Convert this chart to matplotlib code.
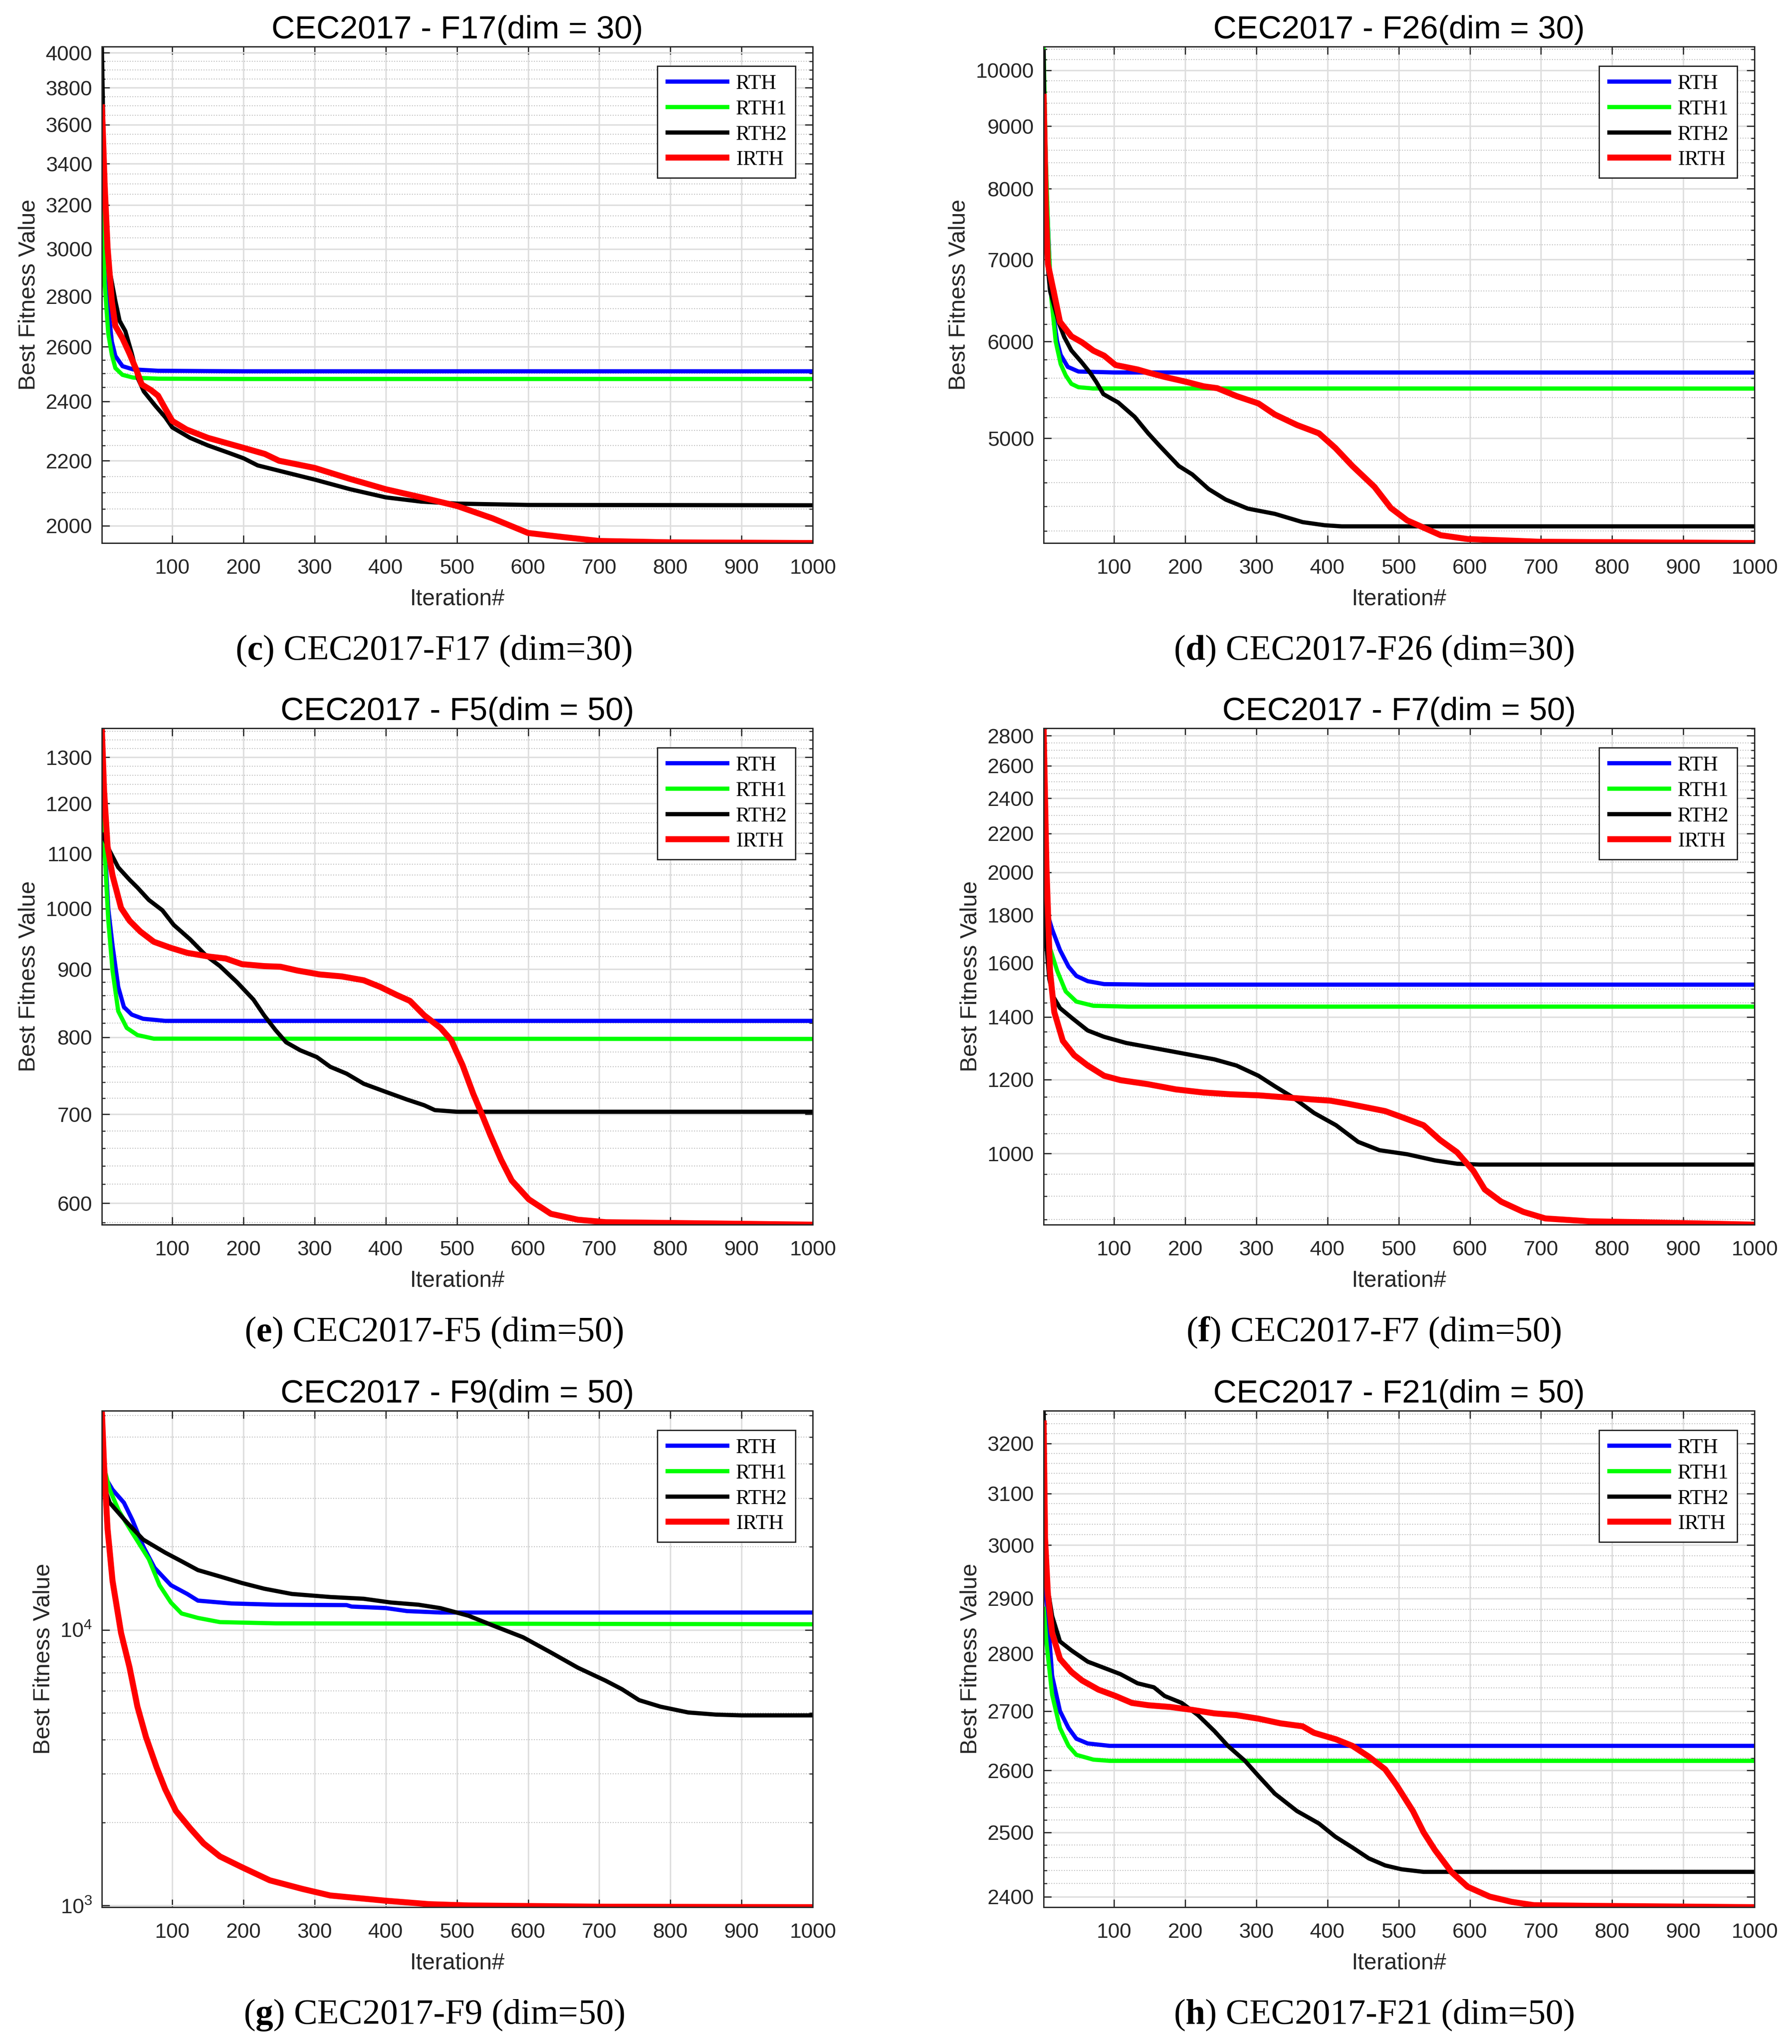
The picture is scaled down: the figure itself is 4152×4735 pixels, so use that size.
import numpy as np
import matplotlib
matplotlib.use("Agg")
import matplotlib.pyplot as plt
from matplotlib.ticker import (FixedLocator, FixedFormatter, NullFormatter,
                               LogLocator, LogFormatterSciNotation)

plt.rcParams["font.family"] = ["Liberation Sans", "DejaVu Sans"]
plt.rcParams["mathtext.fontset"] = "custom"
plt.rcParams["mathtext.rm"] = "Liberation Sans"
plt.rcParams["mathtext.bf"] = "Liberation Serif:bold"

SERIES = ["RTH", "RTH1", "RTH2", "IRTH"]
COLORS = ["#0000ff", "#00ff00", "#000000", "#ff0000"]
WIDTHS = [7, 7, 7, 10]

# (iteration, best fitness)
F17_RTH = [(1, 3766), (5, 3100), (10, 2750), (15, 2620), (20, 2565), (30, 2527),
           (45, 2515), (80, 2510), (200, 2508), (1000, 2508)]
F17_RTH1 = [(1, 3220), (5, 2850), (10, 2650), (15, 2570), (20, 2520), (30, 2495),
            (45, 2485), (80, 2481), (200, 2480), (1000, 2480)]
F17_RTH2 = [(1, 4036), (4, 3400), (8, 3000), (13, 2890), (20, 2780), (26, 2700),
            (34, 2660), (43, 2575), (52, 2480), (60, 2435), (76, 2385), (90, 2345),
            (100, 2310), (125, 2275), (150, 2250), (180, 2225), (200, 2208),
            (220, 2185), (250, 2168), (300, 2140), (350, 2110), (400, 2085),
            (450, 2072), (500, 2066), (600, 2062), (1000, 2061)]
F17_IRTH = [(1, 3709), (5, 3290), (9, 3008), (15, 2780), (20, 2680), (30, 2632),
            (40, 2573), (50, 2510), (57, 2460), (70, 2440), (80, 2420), (90, 2375),
            (100, 2332), (120, 2303), (150, 2275), (200, 2242), (230, 2222),
            (250, 2200), (300, 2177), (350, 2142), (400, 2110), (450, 2085),
            (500, 2059), (550, 2022), (600, 1979), (650, 1967), (700, 1956),
            (800, 1952), (1000, 1950)]

F26_RTH = [(1, 10000), (5, 8000), (10, 6800), (15, 6300), (20, 6000), (25, 5850),
           (35, 5720), (50, 5670), (100, 5660), (1000, 5659)]
F26_RTH1 = [(1, 10454), (4, 8500), (8, 7200), (12, 6500), (18, 6000), (25, 5750),
            (32, 5630), (40, 5540), (50, 5505), (70, 5492), (1000, 5491)]
F26_RTH2 = [(1, 10400), (3, 8000), (6, 7000), (10, 6600), (18, 6350), (23, 6200),
            (30, 6050), (40, 5900), (55, 5765), (67, 5650), (75, 5560), (85, 5434),
            (106, 5348), (129, 5206), (148, 5047), (164, 4930), (191, 4746),
            (210, 4671), (233, 4544), (257, 4455), (288, 4380), (326, 4337),
            (365, 4270), (396, 4245), (420, 4236), (1000, 4236)]
F26_IRTH = [(1, 9567), (4, 7745), (7, 6944), (15, 6600), (24, 6227), (40, 6059),
            (55, 5990), (71, 5897), (86, 5842), (102, 5740), (133, 5692),
            (148, 5659), (171, 5613), (202, 5560), (226, 5514), (245, 5495),
            (272, 5414), (303, 5339), (326, 5229), (357, 5127), (388, 5047),
            (411, 4910), (435, 4746), (466, 4563), (489, 4385), (512, 4284),
            (535, 4226), (559, 4166), (597, 4136), (651, 4125), (698, 4115),
            (1000, 4105)]

F5_RTH = [(1, 1230), (5, 1120), (10, 1000), (16, 938), (24, 873), (32, 843),
          (43, 832), (59, 826), (90, 823), (1000, 823)]
F5_RTH1 = [(1, 1222), (5, 1100), (10, 980), (16, 898), (24, 837), (36, 813),
           (51, 803), (74, 798), (1000, 797.6)]
F5_RTH2 = [(1, 1140), (12, 1105), (24, 1074), (40, 1051), (51, 1037), (67, 1015),
           (86, 997), (102, 972), (125, 948), (148, 921), (167, 905), (191, 880),
           (214, 854), (229, 831), (245, 810), (260, 793), (280, 782), (303, 773),
           (322, 760), (345, 751), (369, 738), (399, 728), (430, 718), (454, 711),
           (469, 705), (500, 703), (1000, 703)]
F5_IRTH = [(1, 1365), (4, 1230), (9, 1114), (16, 1059), (28, 1001), (40, 979),
           (55, 961), (74, 944), (98, 934), (121, 926), (152, 920), (175, 917),
           (198, 908), (229, 905), (252, 904), (276, 898), (307, 892), (338, 889),
           (369, 883), (392, 873), (415, 861), (434, 852), (454, 831), (477, 813),
           (492, 796), (508, 762), (523, 725), (535, 700), (547, 675), (562, 647),
           (577, 624), (601, 604), (632, 589), (670, 583), (709, 580.5),
           (1000, 578)]

F7_RTH = [(1, 1900), (5, 1820), (13, 1737), (24, 1651), (36, 1585), (47, 1549),
          (63, 1529), (86, 1518), (150, 1516), (1000, 1516)]
F7_RTH1 = [(1, 2085), (4, 1850), (9, 1668), (20, 1569), (32, 1491), (47, 1454),
           (71, 1439), (120, 1436), (1000, 1436)]
F7_RTH2 = [(1, 2050), (4, 1700), (9, 1537), (15, 1470), (24, 1431), (41, 1396),
           (63, 1354), (86, 1333), (117, 1313), (148, 1300), (179, 1287),
           (210, 1274), (241, 1261), (272, 1242), (303, 1211), (326, 1180),
           (350, 1150), (381, 1105), (412, 1072), (443, 1029), (473, 1008),
           (512, 998), (551, 983), (582, 975), (613, 973), (1000, 973)]
F7_IRTH = [(1, 2852), (3, 2400), (5, 2023), (10, 1568), (16, 1417), (28, 1320),
           (44, 1274), (63, 1242), (86, 1211), (109, 1198), (148, 1186),
           (187, 1171), (226, 1162), (264, 1157), (303, 1154), (342, 1148),
           (381, 1142), (404, 1139), (427, 1131), (458, 1119), (481, 1110),
           (504, 1094), (535, 1072), (558, 1034), (582, 1003), (605, 958),
           (621, 915), (644, 888), (675, 866), (706, 852), (768, 846), (845, 844),
           (1000, 839)]

F9_RTH = [(1, 40000), (5, 36000), (16, 32270), (32, 28940), (44, 25020),
          (59, 20140), (75, 16800), (98, 14530), (121, 13500), (136, 12770),
          (183, 12470), (245, 12340), (345, 12300), (352, 12150), (400, 12000),
          (430, 11700), (477, 11560), (1000, 11560)]
F9_RTH1 = [(1, 44700), (5, 38000), (12, 32270), (25, 27000), (44, 22450),
           (67, 18060), (82, 14530), (98, 12570), (113, 11470), (136, 11050),
           (167, 10670), (245, 10560), (1000, 10480)]
F9_RTH2 = [(1, 35000), (12, 28940), (36, 24570), (59, 21270), (90, 19070),
           (113, 17740), (136, 16480), (167, 15620), (198, 14790), (229, 14110),
           (268, 13500), (322, 13160), (369, 12970), (407, 12570), (446, 12340),
           (477, 11990), (516, 11260), (554, 10290), (593, 9400), (632, 8280),
           (670, 7290), (709, 6540), (732, 6090), (756, 5560), (786, 5265),
           (825, 5016), (864, 4927), (900, 4895), (1000, 4895)]
F9_IRTH = [(1, 62400), (4, 40000), (9, 23280), (16, 15060), (28, 9750), (40, 7290),
           (51, 5265), (63, 4084), (78, 3168), (90, 2643), (105, 2204),
           (125, 1907), (144, 1680), (167, 1506), (198, 1376), (237, 1234),
           (283, 1148), (322, 1087), (399, 1041), (461, 1011), (516, 1000),
           (700, 990), (1000, 986)]

F21_RTH = [(1, 3000), (5, 2900), (13, 2761), (24, 2700), (36, 2671), (47, 2653),
           (63, 2645), (94, 2641), (1000, 2641)]
F21_RTH1 = [(1, 2885), (5, 2820), (13, 2728), (24, 2671), (36, 2641), (47, 2626),
            (71, 2618), (94, 2616), (1000, 2616)]
F21_RTH2 = [(1, 3267), (5, 2933), (13, 2868), (24, 2822), (40, 2806), (63, 2786),
            (86, 2775), (109, 2764), (133, 2748), (156, 2741), (171, 2726),
            (195, 2714), (218, 2693), (241, 2666), (260, 2641), (284, 2616),
            (303, 2591), (326, 2562), (357, 2534), (388, 2514), (411, 2493),
            (435, 2476), (458, 2459), (481, 2448), (504, 2442), (535, 2438),
            (1000, 2438)]
F21_IRTH = [(1, 3247), (3, 3014), (7, 2908), (13, 2837), (24, 2791), (40, 2768),
            (55, 2753), (78, 2737), (102, 2726), (125, 2714), (148, 2710),
            (179, 2707), (210, 2702), (241, 2696), (272, 2693), (303, 2687),
            (334, 2679), (365, 2674), (381, 2663), (412, 2652), (435, 2641),
            (458, 2623), (481, 2602), (497, 2576), (520, 2534), (535, 2500),
            (551, 2472), (574, 2438), (597, 2415), (628, 2400), (659, 2392),
            (690, 2387), (768, 2386), (1000, 2384)]

TITLES = ["CEC2017 - F17(dim = 30)", "CEC2017 - F26(dim = 30)",
          "CEC2017 - F5(dim = 50)", "CEC2017 - F7(dim = 50)",
          "CEC2017 - F9(dim = 50)", "CEC2017 - F21(dim = 50)"]
LETTERS = ["c", "d", "e", "f", "g", "h"]
CAPTIONS = ["CEC2017-F17 (dim=30)", "CEC2017-F26 (dim=30)",
            "CEC2017-F5 (dim=50)", "CEC2017-F7 (dim=50)",
            "CEC2017-F9 (dim=50)", "CEC2017-F21 (dim=50)"]
DATA = [[F17_RTH, F17_RTH1, F17_RTH2, F17_IRTH],
        [F26_RTH, F26_RTH1, F26_RTH2, F26_IRTH],
        [F5_RTH, F5_RTH1, F5_RTH2, F5_IRTH],
        [F7_RTH, F7_RTH1, F7_RTH2, F7_IRTH],
        [F9_RTH, F9_RTH1, F9_RTH2, F9_IRTH],
        [F21_RTH, F21_RTH1, F21_RTH2, F21_IRTH]]
YLIMS = [(1950, 4036), (4105, 10454), (578, 1367), (839, 2852), (986, 62400),
         (2384, 3267)]
# (first major, last major, major step, minor step); None -> plain log decades
YTICKS = [(2000, 4000, 200, 50), (5000, 10000, 1000, 200), (600, 1300, 100, 20),
          (1000, 2800, 200, 50), None, (2400, 3200, 100, 20)]
XTICKS = list(range(100, 1001, 100))

W, H = 4152, 4735
fig = plt.figure(figsize=(W / 100, H / 100), dpi=100)

AX_W_PX, AX_H_PX = 1647, 1150
col_left = [236 / W, 2418 / W]
row_top = [108, 1687, 3268]
cap_x = [1005 / W, 3183 / W]
cap_base = [1528, 3107, 4688]
axis_col = "#262626"

for i in range(6):
    r, c = divmod(i, 2)
    ax = fig.add_axes([col_left[c], 1 - (row_top[r] + AX_H_PX) / H,
                       AX_W_PX / W, AX_H_PX / H])
    for name, col, lw, pts in zip(SERIES, COLORS, WIDTHS, DATA[i]):
        arr = np.array(pts, dtype=float)
        ax.plot(arr[:, 0], arr[:, 1], color=col, lw=lw, label=name,
                solid_joinstyle="round", solid_capstyle="butt")
    ax.set_yscale("log")
    ax.set_xlim(1, 1000)
    ax.set_ylim(*YLIMS[i])
    ax.xaxis.set_major_locator(FixedLocator(XTICKS))
    ax.xaxis.set_major_formatter(FixedFormatter([str(t) for t in XTICKS]))
    ax.xaxis.set_minor_locator(FixedLocator([]))
    spec = YTICKS[i]
    if spec is None:
        ax.yaxis.set_major_locator(LogLocator(base=10))
        ax.yaxis.set_major_formatter(LogFormatterSciNotation())
        ax.yaxis.set_minor_locator(LogLocator(base=10, subs=np.arange(2, 10)))
    else:
        lo, hi, step, mstep = spec
        majors = np.arange(lo, hi + 1, step)
        ax.yaxis.set_major_locator(FixedLocator(majors))
        ax.yaxis.set_major_formatter(FixedFormatter([str(int(m)) for m in majors]))
        minors = np.arange(lo - 5 * step, hi + 5 * step, mstep)
        ax.yaxis.set_minor_locator(FixedLocator(minors))
    ax.yaxis.set_minor_formatter(NullFormatter())

    ax.set_axisbelow(True)
    ax.grid(True, which="major", color="#dedede", lw=2.5, ls="-")
    ax.grid(True, which="minor", axis="y", color="#bdbdbd", lw=1.6, ls=":")
    for sp in ax.spines.values():
        sp.set_color(axis_col)
        sp.set_linewidth(2.2)
    ax.tick_params(which="both", direction="in", top=True, right=True,
                   colors=axis_col, labelsize=35)
    ax.tick_params(which="major", length=13, width=2)
    ax.tick_params(which="minor", length=6, width=1.8)
    ax.tick_params(axis="x", which="major", pad=26)
    ax.tick_params(axis="y", which="major", pad=16)

    ax.set_xlabel("Iteration#", fontsize=38, color=axis_col, labelpad=17)
    ax.set_ylabel("Best Fitness Value", fontsize=38.5, color=axis_col, labelpad=10)
    ax.text(0.5, 1 + 19 / AX_H_PX, TITLES[i], transform=ax.transAxes,
            ha="center", va="baseline", fontsize=54, color="black")

    leg = ax.legend(loc="upper right",
                    bbox_to_anchor=(1 - 40 / AX_W_PX, 1 - 45 / AX_H_PX),
                    borderaxespad=0, prop={"family": "Liberation Serif", "size": 35},
                    fancybox=False, edgecolor=axis_col, framealpha=1,
                    handlelength=3.05, handletextpad=0.3, labelspacing=0.3,
                    borderpad=0.4)
    leg.get_frame().set_linewidth(2.2)

    fig.text(cap_x[c], 1 - cap_base[r] / H,
             rf"($\mathbf{{{LETTERS[i]}}}$) {CAPTIONS[i]}",
             ha="center", va="baseline", fontsize=59,
             family="Liberation Serif", color="black")

fig.savefig("out.png", dpi=100)
